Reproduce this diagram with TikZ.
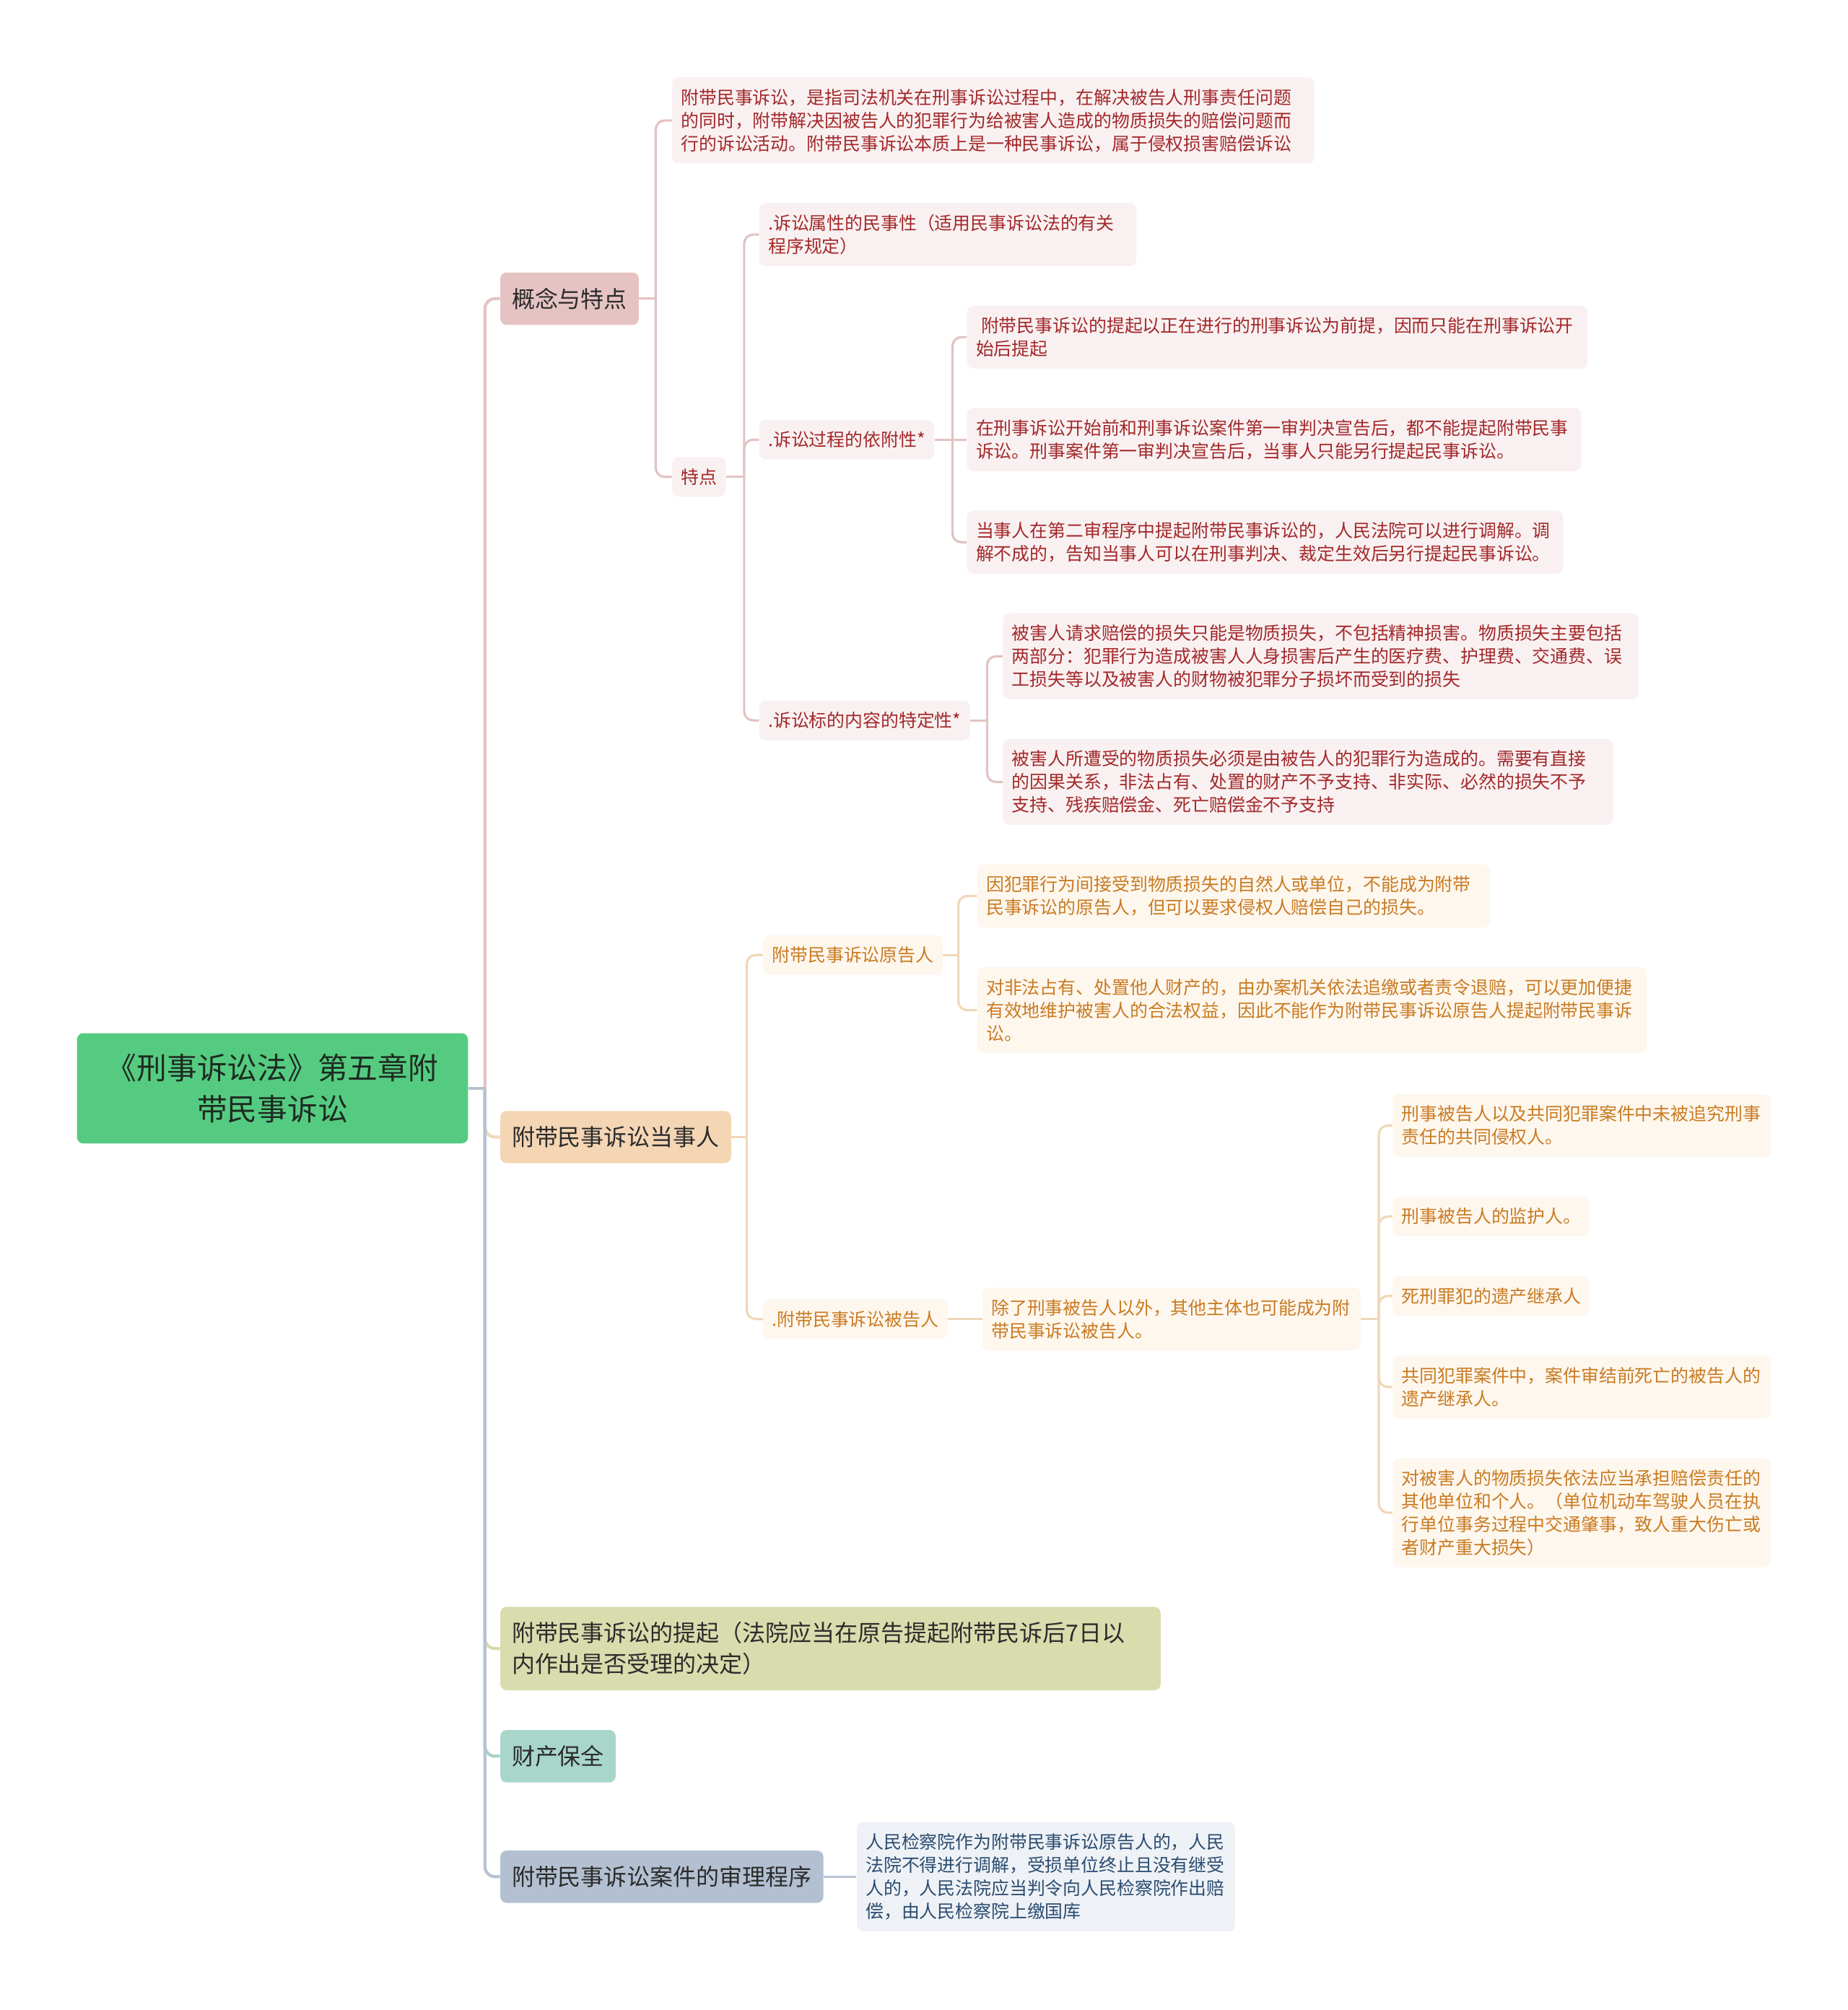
\documentclass[tikz,border=0pt]{standalone}
\usepackage{fontspec}
\setmainfont{Noto Sans CJK SC}
\definecolor{RootFill}{HTML}{55CB81}
\definecolor{RootInk}{HTML}{1D2B21}
\definecolor{TopicInk}{HTML}{2B2B2B}
\definecolor{RedTop}{HTML}{E6C3C3}
\definecolor{RedPale}{HTML}{F9F1F1}
\definecolor{RedInk}{HTML}{A3282B}
\definecolor{RedLine}{HTML}{E3C3C3}
\definecolor{PeachTop}{HTML}{F4D5B4}
\definecolor{PeachPale}{HTML}{FEF7EE}
\definecolor{PeachInk}{HTML}{C97B22}
\definecolor{PeachLine}{HTML}{F0D7B9}
\definecolor{OliveTop}{HTML}{D9DCAD}
\definecolor{OliveLine}{HTML}{D7DAAA}
\definecolor{TealTop}{HTML}{A8D6CA}
\definecolor{TealLine}{HTML}{A9D3C7}
\definecolor{BlueTop}{HTML}{B3C0D1}
\definecolor{BluePale}{HTML}{EEF2F6}
\definecolor{BlueInk}{HTML}{2B4B70}
\definecolor{BlueLine}{HTML}{B6C3D3}
\tikzset{
  rootbox/.style={rounded corners=5pt,fill=RootFill,text=RootInk,align=center,text width=285pt,inner xsep=10pt,inner ysep=16pt,font=\fontsize{23.5}{32}\selectfont},
  topic/.style={anchor=west,rounded corners=5pt,text=TopicInk,align=left,inner xsep=9pt,inner ysep=12pt,font=\fontsize{18}{24}\selectfont},
  leaf/.style={anchor=west,rounded corners=5pt,align=left,inner xsep=7pt,inner ysep=9pt,font=\fontsize{14}{18}\selectfont},
  redleaf/.style={leaf,fill=RedPale,text=RedInk},
  peachleaf/.style={leaf,fill=PeachPale,text=PeachInk},
  blueleaf/.style={leaf,fill=BluePale,text=BlueInk},
  stem/.style={line width=2.4pt,rounded corners=8pt},
  twig/.style={line width=1.8pt,rounded corners=7pt}
}
\begin{document}
\begin{tikzpicture}[x=1pt,y=-1pt]
  \useasboundingbox (0,0) rectangle (1441,1568);
  % root and main topics
  \node[rootbox] (root) at (212.5,849) {《刑事诉讼法》第五章附\\带民事诉讼};
  \node[topic,fill=RedTop] (gn) at (390,233) {概念与特点};
  \node[topic,fill=PeachTop] (dsr) at (390,887) {附带民事诉讼当事人};
  \node[topic,fill=OliveTop,text width=497pt] (tq) at (390,1286) {附带民事诉讼的提起（法院应当在原告提起附带民诉后7日以\\内作出是否受理的决定）};
  \node[topic,fill=TealTop] (bq) at (390,1370) {财产保全};
  \node[topic,fill=BlueTop] (sl) at (390,1464) {附带民事诉讼案件的审理程序};

  % 概念与特点
  \node[redleaf,text width=487pt] (dy) at (524,94) {附带民事诉讼，是指司法机关在刑事诉讼过程中，在解决被告人刑事责任问题\\的同时，附带解决因被告人的犯罪行为给被害人造成的物质损失的赔偿问题而\\行的诉讼活动。附带民事诉讼本质上是一种民事诉讼，属于侵权损害赔偿诉讼};
  \node[redleaf] (td) at (524,372) {特点};
  \node[redleaf,text width=280pt] (mss) at (592,183) {.诉讼属性的民事性（适用民事诉讼法的有关\\程序规定）};
  \node[redleaf] (yfx) at (592,343) {.诉讼过程的依附性*};
  \node[redleaf] (tdx) at (592,562) {.诉讼标的内容的特定性*};
  \node[redleaf,text width=470pt] (yf1) at (754,263) {\hspace*{4pt}附带民事诉讼的提起以正在进行的刑事诉讼为前提，因而只能在刑事诉讼开\\始后提起};
  \node[redleaf,text width=465pt] (yf2) at (754,343) {在刑事诉讼开始前和刑事诉讼案件第一审判决宣告后，都不能提起附带民事\\诉讼。刑事案件第一审判决宣告后，当事人只能另行提起民事诉讼。};
  \node[redleaf,text width=451pt] (yf3) at (754,423) {当事人在第二审程序中提起附带民事诉讼的，人民法院可以进行调解。调\\解不成的，告知当事人可以在刑事判决、裁定生效后另行提起民事诉讼。};
  \node[redleaf,text width=482pt] (td1) at (782,512) {被害人请求赔偿的损失只能是物质损失，不包括精神损害。物质损失主要包括\\两部分：犯罪行为造成被害人人身损害后产生的医疗费、护理费、交通费、误\\工损失等以及被害人的财物被犯罪分子损坏而受到的损失};
  \node[redleaf,text width=462pt] (td2) at (782,610) {被害人所遭受的物质损失必须是由被告人的犯罪行为造成的。需要有直接\\的因果关系，非法占有、处置的财产不予支持、非实际、必然的损失不予\\支持、残疾赔偿金、死亡赔偿金不予支持};

  % 附带民事诉讼当事人
  \node[peachleaf] (ygr) at (595,745) {附带民事诉讼原告人};
  \node[peachleaf] (bgr) at (595,1029) {.附带民事诉讼被告人};
  \node[peachleaf,text width=386pt] (yg1) at (762,699) {因犯罪行为间接受到物质损失的自然人或单位，不能成为附带\\民事诉讼的原告人，但可以要求侵权人赔偿自己的损失。};
  \node[peachleaf,text width=508pt] (yg2) at (762,788) {对非法占有、处置他人财产的，由办案机关依法追缴或者责令退赔，可以更加便捷\\有效地维护被害人的合法权益，因此不能作为附带民事诉讼原告人提起附带民事诉\\讼。};
  \node[peachleaf,text width=281pt] (cl) at (766,1029) {除了刑事被告人以外，其他主体也可能成为附\\带民事诉讼被告人。};
  \node[peachleaf,text width=281pt] (bg1) at (1086,878) {刑事被告人以及共同犯罪案件中未被追究刑事\\责任的共同侵权人。};
  \node[peachleaf] (bg2) at (1086,949) {刑事被告人的监护人。};
  \node[peachleaf] (bg3) at (1086,1011) {死刑罪犯的遗产继承人};
  \node[peachleaf,text width=281pt] (bg4) at (1086,1082) {共同犯罪案件中，案件审结前死亡的被告人的\\遗产继承人。};
  \node[peachleaf,text width=281pt] (bg5) at (1086,1180) {对被害人的物质损失依法应当承担赔偿责任的\\其他单位和个人。（单位机动车驾驶人员在执\\行单位事务过程中交通肇事，致人重大伤亡或\\者财产重大损失）};

  % 审理程序
  \node[blueleaf,text width=281pt] (jc) at (668,1464) {人民检察院作为附带民事诉讼原告人的，人民\\法院不得进行调解，受损单位终止且没有继受\\人的，人民法院应当判令向人民检察院作出赔\\偿，由人民检察院上缴国库};

  % junctions
  \path (root.east) ++(13,0) coordinate (rootJ);
  \path (gn.east) ++(13,0) coordinate (gnJ);
  \path (td.east) ++(14,0) coordinate (tdJ);
  \path (yfx.east) ++(14,0) coordinate (yfxJ);
  \path (tdx.east) ++(13,0) coordinate (tdxJ);
  \path (dsr.east) ++(12,0) coordinate (dsrJ);
  \path (ygr.east) ++(12,0) coordinate (ygrJ);
  \path (cl.east) ++(14,0) coordinate (clJ);

  % connectors
  \draw[stem,draw=RedLine] (rootJ) |- (gn.west);
  \draw[stem,draw=PeachLine] (rootJ) |- (dsr.west);
  \draw[stem,draw=OliveLine] (rootJ) |- (tq.west);
  \draw[stem,draw=TealLine] (rootJ) |- (bq.west);
  \draw[stem,draw=BlueLine] (rootJ) |- (sl.west);
  \draw[stem,draw=BlueLine] (root.east) -- (rootJ);

  \draw[twig,draw=RedLine] (gn.east) -- (gnJ);
  \draw[twig,draw=RedLine] (gnJ) |- (dy.west);
  \draw[twig,draw=RedLine] (gnJ) |- (td.west);
  \draw[twig,draw=RedLine] (td.east) -- (tdJ);
  \draw[twig,draw=RedLine] (tdJ) |- (mss.west);
  \draw[twig,draw=RedLine] (tdJ) |- (yfx.west);
  \draw[twig,draw=RedLine] (tdJ) |- (tdx.west);
  \draw[twig,draw=RedLine] (yfx.east) -- (yf2.west);
  \draw[twig,draw=RedLine] (yfxJ) |- (yf1.west);
  \draw[twig,draw=RedLine] (yfxJ) |- (yf3.west);
  \draw[twig,draw=RedLine] (tdx.east) -- (tdxJ);
  \draw[twig,draw=RedLine] (tdxJ) |- (td1.west);
  \draw[twig,draw=RedLine] (tdxJ) |- (td2.west);

  \draw[twig,draw=PeachLine] (dsr.east) -- (dsrJ);
  \draw[twig,draw=PeachLine] (dsrJ) |- (ygr.west);
  \draw[twig,draw=PeachLine] (dsrJ) |- (bgr.west);
  \draw[twig,draw=PeachLine] (ygr.east) -- (ygrJ);
  \draw[twig,draw=PeachLine] (ygrJ) |- (yg1.west);
  \draw[twig,draw=PeachLine] (ygrJ) |- (yg2.west);
  \draw[twig,draw=PeachLine] (bgr.east) -- (cl.west);
  \draw[twig,draw=PeachLine] (cl.east) -- (clJ);
  \draw[twig,draw=PeachLine] (clJ) |- (bg1.west);
  \draw[twig,draw=PeachLine] (clJ) |- (bg2.west);
  \draw[twig,draw=PeachLine] (clJ) |- (bg3.west);
  \draw[twig,draw=PeachLine] (clJ) |- (bg4.west);
  \draw[twig,draw=PeachLine] (clJ) |- (bg5.west);

  \draw[twig,draw=BlueLine] (sl.east) -- (jc.west);
\end{tikzpicture}
\end{document}
